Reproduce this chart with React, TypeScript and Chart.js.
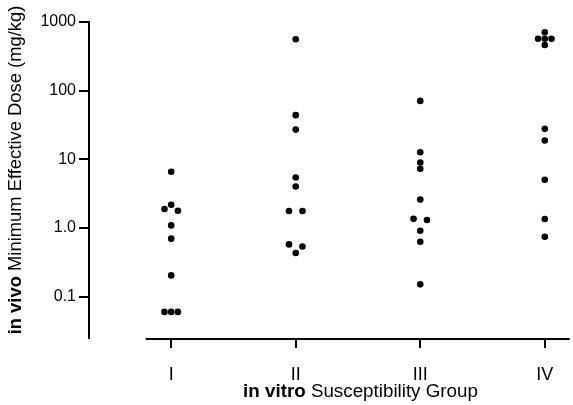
import React, { useEffect, useRef } from "react";
import { Chart, registerables } from "chart.js";

Chart.register(...registerables);

const CATEGORIES = ["I", "II", "III", "IV"];
const Y_TICK_VALUES = [0.1, 1, 10, 100, 1000];
const Y_TICK_LABELS = ["0.1", "1.0", "10", "100", "1000"];

// dose values (mg/kg) and horizontal jitter slots (-1 left, 0 centre, 1 right)
const GROUP_I_DOSE = [6.6, 2.18, 1.89, 1.78, 1.09, 0.7, 0.204, 0.06, 0.06, 0.06];
const GROUP_I_SLOT = [0, 0, -1, 1, 0, 0, 0, -1, 0, 1];
const GROUP_II_DOSE = [560, 44, 27.1, 5.43, 4.02, 1.77, 1.77, 0.577, 0.539, 0.432];
const GROUP_II_SLOT = [0, 0, 0, 0, 0, -1, 1, -1, 1, 0];
const GROUP_III_DOSE = [71, 12.7, 8.98, 7.28, 2.6, 1.36, 1.31, 0.912, 0.631, 0.151];
const GROUP_III_SLOT = [0, 0, 0, 0, 0, -1, 1, 0, 0, 0];
const GROUP_IV_DOSE = [708, 571, 571, 571, 463, 27.8, 18.8, 5.03, 1.35, 0.746];
const GROUP_IV_SLOT = [0, -1, 0, 1, 0, 0, 0, 0, 0, 0];

const GROUPS = [
  { dose: GROUP_I_DOSE, slot: GROUP_I_SLOT },
  { dose: GROUP_II_DOSE, slot: GROUP_II_SLOT },
  { dose: GROUP_III_DOSE, slot: GROUP_III_SLOT },
  { dose: GROUP_IV_DOSE, slot: GROUP_IV_SLOT },
];

const SLOT_WIDTH = 0.054;
const FONT = "'Liberation Sans', Arial, Helvetica, sans-serif";

const axisPlugin = {
  id: "customAxes",
  afterDraw(chart: any) {
    const ctx = chart.ctx;
    const xs = chart.scales.x;
    const ca = chart.chartArea;
    ctx.save();
    // x axis line (starts right of the y axis)
    ctx.strokeStyle = "#000";
    ctx.lineWidth = 2;
    ctx.beginPath();
    ctx.moveTo(xs.getPixelForValue(0.795), ca.bottom + 1);
    ctx.lineTo(ca.right, ca.bottom + 1);
    ctx.stroke();

    ctx.fillStyle = "#000";
    ctx.textBaseline = "alphabetic";
    ctx.textAlign = "left";
    // x title
    let bold = "bold 18.8px " + FONT;
    let reg = "18.8px " + FONT;
    const xb = "in vitro ";
    const xr = "Susceptibility Group";
    ctx.font = bold;
    const wxb = ctx.measureText(xb).width;
    ctx.font = reg;
    const wxr = ctx.measureText(xr).width;
    const sx = 360.5 - (wxb + wxr) / 2;
    ctx.font = bold;
    ctx.fillText(xb, sx, 397);
    ctx.font = reg;
    ctx.fillText(xr, sx + wxb, 397);

    // y title
    bold = "bold 18.4px " + FONT;
    reg = "18.4px " + FONT;
    const yb = "in vivo ";
    const yr = "Minimum Effective Dose (mg/kg)";
    ctx.translate(21, 170);
    ctx.rotate(-Math.PI / 2);
    ctx.font = bold;
    const wyb = ctx.measureText(yb).width;
    ctx.font = reg;
    const wyr = ctx.measureText(yr).width;
    const sy = -(wyb + wyr) / 2;
    ctx.font = bold;
    ctx.fillText(yb, sy, 0);
    ctx.font = reg;
    ctx.fillText(yr, sy + wyb, 0);
    ctx.restore();
  },
};

export default function App() {
  const ref = useRef<HTMLCanvasElement>(null);
  useEffect(() => {
    document.body.style.margin = "0";
    const points: { x: number; y: number }[] = [];
    GROUPS.forEach((g, gi) => {
      g.dose.forEach((d, i) => {
        points.push({ x: gi + 1 + g.slot[i] * SLOT_WIDTH, y: d });
      });
    });
    const chart = new Chart(ref.current!, {
      type: "scatter",
      data: {
        datasets: [
          {
            data: points,
            backgroundColor: "#000",
            borderColor: "#000",
            pointRadius: 3.3,
            pointHoverRadius: 3.3,
            borderWidth: 0,
          },
        ],
      },
      options: {
        responsive: false,
        maintainAspectRatio: false,
        animation: false,
        layout: { padding: { top: 22, right: 0, left: 0, bottom: 0 } },
        plugins: {
          legend: { display: false },
          tooltip: { enabled: false },
        },
        scales: {
          x: {
            type: "linear",
            min: 0.34,
            max: 4.2,
            afterFit: (s: any) => {
              s.height = 67;
            },
            afterBuildTicks: (s: any) => {
              s.ticks = CATEGORIES.map((_, i) => ({ value: i + 1 }));
            },
            border: { display: false },
            grid: {
              drawOnChartArea: false,
              drawTicks: true,
              tickLength: 10,
              color: "#000",
              lineWidth: 2,
            },
            ticks: {
              color: "#000",
              font: { family: FONT, size: 18 },
              padding: 16,
              maxRotation: 0,
              autoSkip: false,
              callback: (v: any) => CATEGORIES[Math.round(v) - 1] ?? "",
            },
          },
          y: {
            type: "logarithmic",
            min: 0.025,
            max: 1000,
            afterFit: (s: any) => {
              s.width = 89;
            },
            afterBuildTicks: (s: any) => {
              s.ticks = Y_TICK_VALUES.map((v) => ({ value: v }));
            },
            border: { display: true, color: "#000", width: 2 },
            grid: {
              drawOnChartArea: false,
              drawTicks: true,
              tickLength: 10,
              color: "#000",
              lineWidth: 2,
            },
            ticks: {
              color: "#000",
              font: { family: FONT, size: 16 },
              padding: 3,
              autoSkip: false,
              callback: (v: any) => {
                const i = Y_TICK_VALUES.indexOf(Number(v));
                return i >= 0 ? Y_TICK_LABELS[i] : "";
              },
            },
          },
        },
      },
      plugins: [axisPlugin],
    });
    return () => chart.destroy();
  }, []);
  return <canvas ref={ref} width={573} height={405} style={{ display: "block" }} />;
}
